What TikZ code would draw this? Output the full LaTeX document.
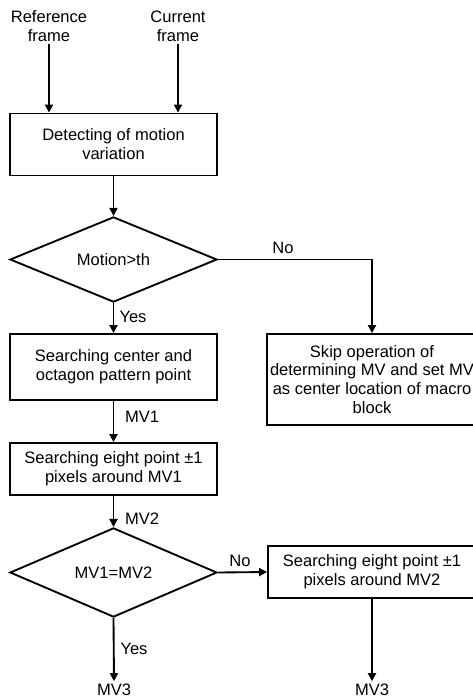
\documentclass[tikz,border=0pt]{standalone}
\usepackage{fontspec}
\setmainfont{Liberation Sans}
\usetikzlibrary{shapes.geometric,arrows.meta}

\begin{document}
\begin{tikzpicture}[x=0.75pt,y=-0.75pt,
        line width=1.4pt,
        every node/.style={font=\fontsize{12.4}{14.2}\selectfont, align=center, inner sep=1.5pt},
        box/.style={draw, minimum width=155.25pt, inner sep=0pt},
        decision/.style={draw, diamond, minimum width=155.25pt, inner sep=0pt},
        flow/.style={-{Triangle[length=6pt,width=6pt]}}]
            \useasboundingbox (0,0) rectangle (473,699);

            %%inputs
            \node (ref) at (49, 26){Reference\\frame};
            \node (cur) at (178, 26){Current\\frame};

            %%left column
            \node[box, minimum height=46.5pt] (detect) at (113.5, 144.5){Detecting of motion\\variation};
            \node[decision, minimum height=56.25pt] (motion) at (113.5, 259.5){Motion>th};
            \node[box, minimum height=49.5pt] (octagon) at (113.5, 367){Searching center and\\octagon pattern point};
            \node[box, minimum height=39pt] (eightone) at (113.5, 469){Searching eight point ±1\\pixels around MV1};
            \node[decision, minimum height=57.75pt] (same) at (113.5, 572.5){MV1=MV2};
            \node (mvleft) at (114, 690){MV3};

            %%right column
            \node[box, minimum width=157.5pt, minimum height=68.25pt] (skip) at (372, 379.5){Skip operation of\\determining MV and set MV\\as center location of macro\\block};
            \node[box, minimum width=156pt, minimum height=39pt] (eighttwo) at (372, 572){Searching eight point ±1\\pixels around MV2};
            \node (mvright) at (372, 690){MV3};

            %%connectors
            \draw[flow] (ref.south) -- (ref.south |- detect.north);
            \draw[flow] (cur.south) -- (cur.south |- detect.north);
            \draw[flow] (detect) -- (motion);
            \draw[flow] (motion) -- (octagon);
                \node at (133, 317){Yes};
            \draw[flow] (motion.east) -| (skip.north);
                \node at (283, 248){No};
            \draw[flow] (octagon) -- (eightone);
                \node at (142, 417){MV1};
            \draw[flow] (eightone) -- (same);
                \node at (142, 519){MV2};
            \draw[flow] (same.east) -- (eighttwo.west);
                \node at (240, 561){No};
            \draw[flow] (same.south) -- (mvleft.north);
                \node at (134, 649){Yes};
            \draw[flow] (eighttwo.south) -- (mvright.north);
        \end{tikzpicture}
\end{document}
